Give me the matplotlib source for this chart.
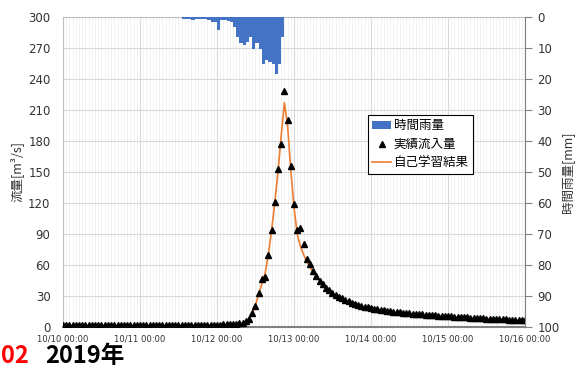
import numpy as np
import matplotlib
matplotlib.use("Agg")
import matplotlib.pyplot as plt
from matplotlib.patches import Patch
from matplotlib.lines import Line2D

plt.rcParams['font.family'] = ['DejaVu Sans', 'Noto Sans CJK JP']

# ---- data (hourly, 10/10 00:00 .. 10/16 00:00) ----
tick_labels = ["10/10 00:00", "10/11 00:00", "10/12 00:00", "10/13 00:00",
               "10/14 00:00", "10/15 00:00", "10/16 00:00"]

observed_flow = [
    1.8, 1.7, 1.8, 1.6, 1.7, 1.8, 1.7, 1.6, 1.7, 1.8, 1.7, 1.6, 1.7, 1.7, 1.6, 1.7, 1.8, 1.7, 1.6, 1.7, 1.6, 1.7, 1.6, 1.6,
    1.6, 1.7, 1.6, 1.5, 1.6, 1.7, 1.6, 1.5, 1.6, 1.5, 1.6, 1.5, 1.6, 1.7, 1.6, 1.7, 1.8, 1.7, 1.8, 1.9, 1.8, 1.9, 2.0, 2.1,
    2.2, 2.3, 2.5, 2.6, 2.8, 3.0, 3.2, 3.6, 4.2, 5.5, 7.5, 14.0, 20.0, 33.0, 46.0, 48.0, 70.0, 94.0, 121.0, 153.0, 177.0, 228.0, 200.0, 156.0,
    119.0, 94.0, 96.0, 80.0, 66.0, 61.0, 54.0, 49.0, 45.0, 42.0, 38.0, 36.0, 33.0, 31.0, 29.5, 28.0, 26.5, 25.0, 23.5, 22.5, 21.5, 20.5, 19.8, 19.0,
    18.3, 17.8, 17.2, 16.7, 16.2, 15.8, 15.4, 14.8, 14.5, 14.2, 13.8, 13.6, 13.1, 12.9, 12.7, 12.3, 12.1, 12.0, 11.6, 11.4, 11.3, 11.0, 10.8, 10.7,
    10.4, 10.3, 10.0, 9.9, 9.6, 9.5, 9.3, 9.0, 8.9, 8.8, 8.5, 8.4, 8.2, 8.1, 7.9, 7.8, 7.6, 7.5, 7.3, 7.2, 7.0, 6.9, 6.7, 6.6,
    6.4,
]

simulated_flow = [
    1.6, 1.6, 1.6, 1.6, 1.6, 1.6, 1.6, 1.6, 1.6, 1.6, 1.6, 1.6, 1.6, 1.6, 1.6, 1.6, 1.6, 1.6, 1.6, 1.6, 1.6, 1.6, 1.6, 1.6,
    1.5, 1.5, 1.5, 1.5, 1.5, 1.5, 1.5, 1.5, 1.5, 1.5, 1.5, 1.5, 1.5, 1.5, 1.5, 1.6, 1.6, 1.6, 1.7, 1.7, 1.8, 1.8, 1.9, 2.0,
    2.1, 2.2, 2.4, 2.5, 2.7, 2.9, 3.1, 3.4, 4.0, 5.0, 8.0, 13.0, 21.0, 32.0, 42.0, 52.0, 70.0, 93.0, 120.0, 150.0, 185.0, 217.0, 195.0, 152.0,
    116.0, 90.0, 78.0, 70.0, 63.0, 58.0, 53.0, 48.5, 44.5, 41.0, 37.5, 35.0, 32.5, 30.5, 29.0, 27.5, 26.0, 24.7, 23.3, 22.3, 21.3, 20.4, 19.6, 18.9,
    18.2, 17.6, 17.1, 16.6, 16.1, 15.6, 15.2, 14.8, 14.4, 14.0, 13.7, 13.4, 13.1, 12.8, 12.5, 12.2, 12.0, 11.8, 11.5, 11.3, 11.1, 10.9, 10.7, 10.5,
    10.3, 10.1, 9.9, 9.8, 9.6, 9.4, 9.2, 9.0, 8.9, 8.7, 8.5, 8.4, 8.2, 8.0, 7.9, 7.7, 7.6, 7.4, 7.3, 7.1, 7.0, 6.8, 6.7, 6.5,
    6.4,
]

rain_start_hour = 37
hourly_rain = [0.5, 0.5, 0.8, 1.0, 0.5, 0.5, 0.5, 0.8, 1.0, 1.5, 1.6, 4.3, 1.0, 1.0, 1.3, 1.6,
               3.2, 6.5, 8.5, 9.0, 8.0, 6.5, 10.2, 8.5, 10.2, 15.0, 14.0, 14.5, 15.0, 18.3, 15.0, 6.5]

hours = np.arange(len(observed_flow))
rain_hours = np.arange(rain_start_hour, rain_start_hour + len(hourly_rain))

# ---- figure ----
W, H = 579, 365
fig = plt.figure(figsize=(W / 100, H / 100), dpi=100)
L, R, T, B = 63, 525, 17, 327
ax = fig.add_axes([L / W, 1 - B / H, (R - L) / W, (B - T) / H])
ax2 = ax.twinx()

jp = ['Noto Sans CJK JP', 'DejaVu Sans']
gray = '#808080'
ax.set_xlim(0, 144)
ax.set_ylim(0, 300)
ax.set_yticks(np.arange(0, 301, 30))
ax.set_xticks(np.arange(0, 145, 24))
ax.set_xticklabels(tick_labels, fontsize=6.1, color='#333333')
ax.set_xticks(np.arange(0, 145, 1), minor=True)
ax.tick_params(axis='y', length=0, pad=9, labelsize=8.5, colors='#333333')
ax.tick_params(axis='x', which='both', length=0, pad=5.5)
ax.grid(True, which='major', axis='both', color='#d9d9d9', lw=0.8)
ax.grid(True, which='minor', axis='x', color='#f0f0f0', lw=0.6)
ax.set_axisbelow(True)
for s in ['left', 'top', 'right']:
    ax.spines[s].set_color('#bfbfbf')
    ax.spines[s].set_linewidth(0.8)
ax.spines['bottom'].set_color(gray)
ax.spines['bottom'].set_linewidth(1.5)

ax.plot(hours, simulated_flow, color='#ED7D31', lw=1.2, zorder=3)
ax.plot(hours, observed_flow, ls='none', marker='^', ms=4.2, color='black', zorder=4)

ax2.bar(rain_hours, hourly_rain, width=1.0, align='edge', color='#4472C4', lw=0)
ax2.set_ylim(100, 0)
ax2.set_yticks(np.arange(0, 101, 10))
ax2.tick_params(axis='y', length=5, width=0.8, color=gray, pad=4, labelsize=8.5, labelcolor='#333333')
for s in ['left', 'top', 'right', 'bottom']:
    ax2.spines[s].set_visible(False)
ax2.spines['right'].set_visible(True)
ax2.spines['right'].set_color(gray)
ax2.spines['right'].set_linewidth(0.8)

ax.set_ylabel('流量[m³/s]', fontsize=9, color='#333333', family=jp, labelpad=3)
ax2.set_ylabel('時間雨量[mm]', fontsize=9, color='#333333', family=jp, labelpad=1)

handles = [Patch(facecolor='#4472C4', edgecolor='none'),
           Line2D([], [], ls='none', marker='^', ms=4, color='black'),
           Line2D([], [], color='#ED7D31', lw=1.2)]
labels = ['時間雨量', '実績流入量', '自己学習結果']
leg = ax2.legend(handles, labels, loc='upper left', bbox_to_anchor=(0.66, 0.684),
                 borderaxespad=0, fancybox=False, framealpha=1, edgecolor='black',
                 prop={'family': jp, 'size': 9},
                 handlelength=1.5, handleheight=0.6, handletextpad=0.2,
                 labelspacing=0.45, borderpad=0.35)
leg.get_frame().set_linewidth(0.8)

fig.text(1 / W, 0.005, '02', color='#ff0000', fontsize=17, fontweight='bold',
         family=jp, va='baseline')
fig.text(45 / W, 0.005, '2019年', color='black', fontsize=17, fontweight='bold',
         family=jp, va='baseline')

fig.savefig('out.png', dpi=100)
